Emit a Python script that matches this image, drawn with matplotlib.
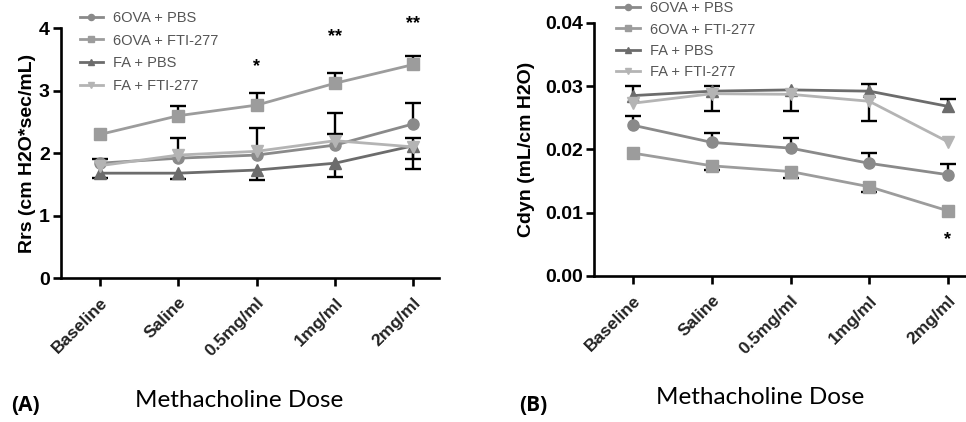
import matplotlib
matplotlib.use("Agg")
import matplotlib.pyplot as plt
import numpy as np

plt.rcParams['font.family'] = ['Liberation Sans', 'DejaVu Sans']

doses = ["Baseline", "Saline", "0.5mg/ml", "1mg/ml", "2mg/ml"]
groups = ["6OVA + PBS", "6OVA + FTI-277", "FA + PBS", "FA + FTI-277"]

# Panel A: Rrs
rrs_ova_pbs = [1.84, 1.92, 1.97, 2.13, 2.47]
rrs_ova_fti = [2.30, 2.60, 2.77, 3.12, 3.42]
rrs_fa_pbs = [1.68, 1.68, 1.73, 1.84, 2.12]
rrs_fa_fti = [1.80, 1.97, 2.03, 2.20, 2.10]
rrs_up = {
    "6OVA + PBS": [0.07, 0.33, 0.44, 0.52, 0.34],
    "6OVA + FTI-277": [0.0, 0.15, 0.19, 0.17, 0.14],
    "FA + PBS": [0.0, 0.0, 0.0, 0.0, 0.13],
    "FA + FTI-277": [0.0, 0.0, 0.0, 0.10, 0.0],
}
rrs_dn = {
    "6OVA + PBS": [0.0, 0.0, 0.0, 0.0, 0.0],
    "6OVA + FTI-277": [0.0, 0.0, 0.0, 0.0, 0.0],
    "FA + PBS": [0.08, 0.10, 0.16, 0.22, 0.21],
    "FA + FTI-277": [0.0, 0.0, 0.0, 0.0, 0.36],
}
rrs_stars = ["", "", "*", "**", "**"]
rrs_star_y = [0, 0, 3.38, 3.86, 4.08]

# Panel B: Cdyn
cdyn_ova_pbs = [0.0238, 0.0211, 0.0202, 0.0178, 0.0160]
cdyn_ova_fti = [0.0194, 0.0174, 0.0165, 0.0141, 0.0103]
cdyn_fa_pbs = [0.0285, 0.0292, 0.0294, 0.0292, 0.0268]
cdyn_fa_fti = [0.0273, 0.0288, 0.0287, 0.0276, 0.0212]
cdyn_up = {
    "6OVA + PBS": [0.0014, 0.0015, 0.0016, 0.0017, 0.0017],
    "6OVA + FTI-277": [0.0, 0.0, 0.0, 0.0, 0.0],
    "FA + PBS": [0.0015, 0.0008, 0.0, 0.0011, 0.0012],
    "FA + FTI-277": [0.0, 0.0, 0.0, 0.0, 0.0],
}
cdyn_dn = {
    "6OVA + PBS": [0.0, 0.0, 0.0, 0.0, 0.0],
    "6OVA + FTI-277": [0.0, 0.0007, 0.0010, 0.0009, 0.0],
    "FA + PBS": [0.0, 0.0, 0.0, 0.0, 0.0],
    "FA + FTI-277": [0.0, 0.0028, 0.0027, 0.0031, 0.0],
}
cdyn_stars = ["", "", "", "", "*"]
cdyn_star_y = [0, 0, 0, 0, 0.0058]

colors = {"6OVA + PBS": "#8a8a8a", "6OVA + FTI-277": "#9c9c9c",
          "FA + PBS": "#6c6c6c", "FA + FTI-277": "#b4b4b4"}
markers = {"6OVA + PBS": "o", "6OVA + FTI-277": "s",
           "FA + PBS": "^", "FA + FTI-277": "v"}

fig = plt.figure(figsize=(9.66, 4.22), dpi=100)
axA = fig.add_axes([0.063, 0.341, 0.391, 0.592])
axB = fig.add_axes([0.615, 0.346, 0.385, 0.600])

x = np.arange(len(doses))


def one_sided(ax, xs, ys, errs, sign):
    xs = np.asarray(xs, float); ys = np.asarray(ys, float); errs = np.asarray(errs, float)
    m = errs > 0
    if not m.any():
        return
    if sign > 0:
        yerr = [np.zeros(m.sum()), errs[m]]
    else:
        yerr = [errs[m], np.zeros(m.sum())]
    _, caps, _ = ax.errorbar(xs[m], ys[m], yerr=yerr, fmt='none', ecolor='black',
                             elinewidth=1.7, capsize=5.5, capthick=1.7, zorder=2)
    if sign > 0:
        caps[0].set_visible(False)
    else:
        caps[1].set_visible(False)


def draw(ax, series, ups, dns, ylim, yticks, yfmt, ylabel, stars, star_y, xmax, lspace):
    for name, vals in series:
        ax.plot(x, vals, color=colors[name], marker=markers[name], markersize=8,
                linewidth=2.0, label=name, zorder=3)
        one_sided(ax, x, vals, ups[name], +1)
        one_sided(ax, x, vals, dns[name], -1)
    for xi, s, sy in zip(x, stars, star_y):
        if s:
            ax.text(xi, sy, s, ha='center', va='center', fontsize=13,
                    fontweight='bold', clip_on=False)
    ax.set_xlim(-0.5, xmax)
    ax.set_ylim(*ylim)
    ax.set_yticks(yticks)
    ax.set_yticklabels([yfmt.format(v) for v in yticks], fontsize=14, fontweight='bold')
    ax.set_xticks(x)
    ax.set_xticklabels(doses, rotation=45, ha='right', rotation_mode='anchor',
                       fontsize=12.5, fontweight='bold', color='#222222')
    ax.spines['top'].set_visible(False)
    ax.spines['right'].set_visible(False)
    ax.spines['left'].set_linewidth(1.9)
    ax.spines['bottom'].set_linewidth(1.9)
    ax.tick_params(axis='both', width=1.9, length=6, direction='out')
    ax.tick_params(axis='x', pad=6)
    ax.tick_params(axis='y', pad=2)
    ax.set_ylabel(ylabel, fontsize=14, fontweight='bold')
    leg = ax.legend(loc='upper left', frameon=False, fontsize=10.5,
                    handlelength=1.6, markerscale=0.55, labelspacing=lspace,
                    borderaxespad=0, borderpad=0, handletextpad=0.7)
    for t in leg.get_texts():
        t.set_color('#555555')
    return leg


legA = draw(axA, [("6OVA + PBS", rrs_ova_pbs), ("6OVA + FTI-277", rrs_ova_fti),
                  ("FA + PBS", rrs_fa_pbs), ("FA + FTI-277", rrs_fa_fti)],
            rrs_up, rrs_dn, (0, 4), [0, 1, 2, 3, 4], "{:d}",
            "Rrs (cm H2O*sec/mL)", rrs_stars, rrs_star_y, 4.32, 0.6)
legA.set_bbox_to_anchor((0.05, 1.07), transform=axA.transAxes)

legB = draw(axB, [("6OVA + PBS", cdyn_ova_pbs), ("6OVA + FTI-277", cdyn_ova_fti),
                  ("FA + PBS", cdyn_fa_pbs), ("FA + FTI-277", cdyn_fa_fti)],
            cdyn_up, cdyn_dn, (0, 0.04), [0.0, 0.01, 0.02, 0.03, 0.04], "{:.2f}",
            "Cdyn (mL/cm H2O)", cdyn_stars, cdyn_star_y, 4.23, 0.5)
legB.set_bbox_to_anchor((0.06, 1.085), transform=axB.transAxes)

axA.yaxis.set_label_coords(-0.065, 0.5)
axB.yaxis.set_label_coords(-0.16, 0.5)

fig.text(0.012, 0.038, "(A)", fontsize=15, fontweight='bold', va='center',
         family=['Open Sans', 'DejaVu Sans'])
fig.text(0.248, 0.052, "Methacholine Dose", fontsize=17.5, ha='center', va='center',
         family=['Lato', 'DejaVu Sans'])
fig.text(0.537, 0.038, "(B)", fontsize=15, fontweight='bold', va='center',
         family=['Open Sans', 'DejaVu Sans'])
fig.text(0.787, 0.057, "Methacholine Dose", fontsize=17.5, ha='center', va='center',
         family=['Lato', 'DejaVu Sans'])

fig.savefig("out.png", dpi=100)
